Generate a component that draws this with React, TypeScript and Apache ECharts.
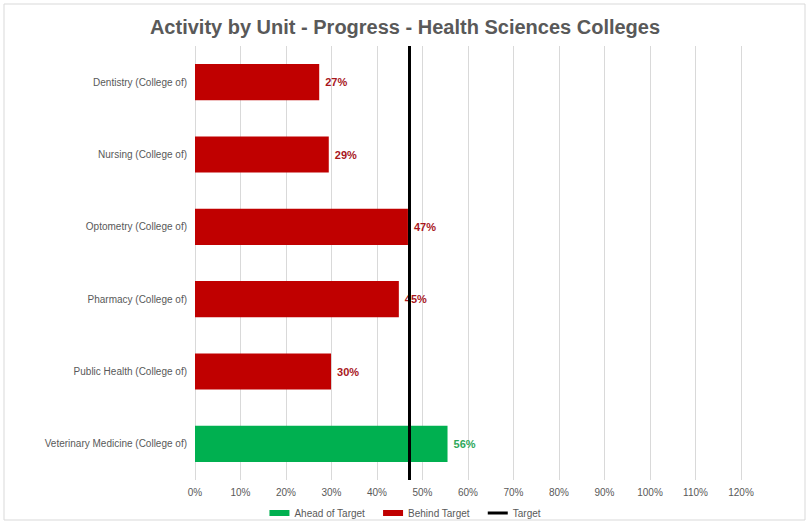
import React, { useEffect, useRef } from "react";
import * as echarts from "echarts";

const categories = [
  "Dentistry (College of)",
  "Nursing (College of)",
  "Optometry (College of)",
  "Pharmacy (College of)",
  "Public Health (College of)",
  "Veterinary Medicine (College of)",
];
const aheadValues: (number | null)[] = [null, null, null, null, null, 55.5];
const behindValues: (number | null)[] = [27.3, 29.4, 46.8, 44.8, 29.9, null];
const labelsText = ["27%", "29%", "47%", "45%", "30%", "56%"];
const targetValue = 47;
const titleText = "Activity by Unit - Progress - Health Sciences Colleges";

export default function App() {
  const ref = useRef<HTMLDivElement>(null);
  useEffect(() => {
    if (!ref.current) return;
    const chart = echarts.init(ref.current, null, { renderer: "svg" });
    const font = "Liberation Sans, Arial, sans-serif";
    chart.setOption({
      animation: false,
      backgroundColor: "#fff",
      textStyle: { fontFamily: font },
      title: {
        text: titleText,
        left: "center",
        top: 12,
        textStyle: { fontSize: 20, fontWeight: "bold", color: "#595959", fontFamily: font },
      },
      graphic: [
        {
          type: "rect",
          shape: { x: 4, y: 4, width: 801, height: 516 },
          style: { fill: "none", stroke: "#D9D9D9", lineWidth: 1 },
          silent: true,
          z: -1,
        },
      ],
      legend: {
        bottom: 2,
        left: "center",
        itemWidth: 20,
        itemHeight: 6,
        itemGap: 18,
        textStyle: { fontSize: 10, color: "#595959", fontFamily: font },
        data: [
          { name: "Ahead of Target", icon: "rect" },
          { name: "Behind Target", icon: "rect" },
          { name: "Target", icon: "path://M0,0 L20,0 L20,3 L0,3 Z" },
        ],
      },
      grid: { left: 195, right: 69, top: 46, bottom: 45 },
      xAxis: {
        type: "value",
        min: 0,
        max: 120,
        interval: 10,
        axisLine: { show: false },
        axisTick: { show: false },
        splitLine: { show: true, lineStyle: { color: "#D9D9D9", width: 1 } },
        axisLabel: {
          formatter: (v: number) => v + "%",
          fontSize: 10,
          color: "#595959",
          margin: 7,
        },
      },
      yAxis: {
        type: "category",
        data: categories,
        inverse: true,
        axisLine: { show: false },
        axisTick: { show: false },
        axisLabel: { fontSize: 10, color: "#595959", margin: 8 },
      },
      series: [
        {
          name: "Ahead of Target",
          type: "bar",
          stack: "a",
          barWidth: "50%",
          data: aheadValues,
          itemStyle: { color: "#00B050" },
          label: {
            show: true,
            position: "right",
            distance: 6,
            fontSize: 11,
            fontWeight: "bold",
            color: "#2EA85A",
            formatter: (p: any) => labelsText[p.dataIndex],
          },
        },
        {
          name: "Behind Target",
          type: "bar",
          stack: "a",
          barWidth: "50%",
          data: behindValues,
          itemStyle: { color: "#C00000" },
          label: {
            show: true,
            position: "right",
            distance: 6,
            fontSize: 11,
            fontWeight: "bold",
            color: "#A8161C",
            formatter: (p: any) => labelsText[p.dataIndex],
          },
        },
        {
          name: "Target",
          type: "line",
          data: [],
          symbol: "none",
          itemStyle: { color: "#000" },
          lineStyle: { color: "#000", width: 3 },
          markLine: {
            silent: true,
            symbol: "none",
            label: { show: false },
            lineStyle: { color: "#000", width: 3, type: "solid" },
            data: [{ xAxis: targetValue }],
          },
          z: 5,
        },
      ],
    });
    return () => chart.dispose();
  }, []);
  return (
    <div
      ref={ref}
      style={{ position: "absolute", left: 0, top: 0, width: 810, height: 525 }}
    />
  );
}
